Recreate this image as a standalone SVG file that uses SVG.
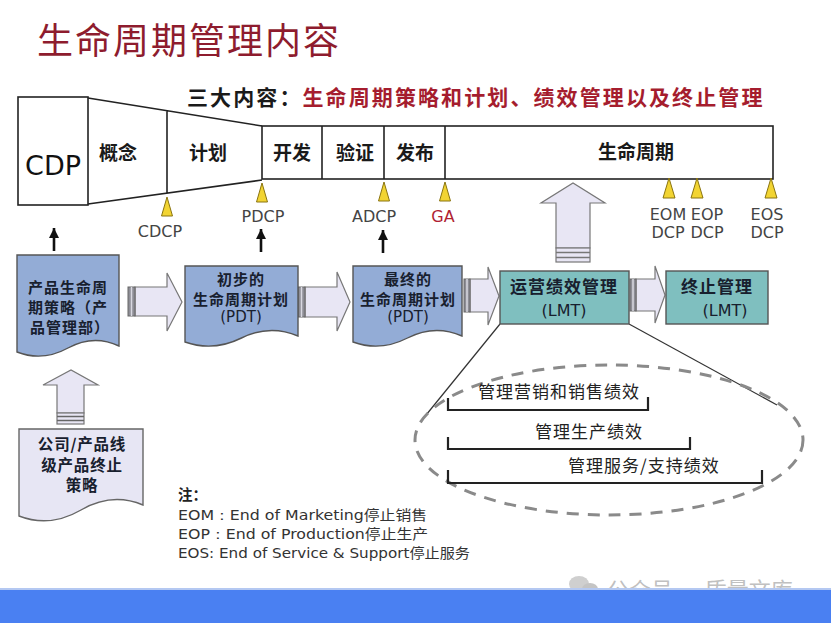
<svg xmlns="http://www.w3.org/2000/svg" width="831" height="623" viewBox="0 0 831 623">
<defs>
<style>
.cjk{font-family:"Noto Sans CJK SC","Noto Sans",sans-serif}
.lat{font-family:"DejaVu Sans","Liberation Sans",sans-serif}
.box{fill:#ffffff;stroke:#222;stroke-width:1.6}
.doc{fill:#93acd6;stroke:#555;stroke-width:1.4}
.doc2{fill:#e7e6f4;stroke:#666;stroke-width:1.4}
.teal{fill:#7fbfbf;stroke:#555;stroke-width:1.4}
.barrow{fill:#e8e6f4;stroke:#777;stroke-width:1.2}
.stripe{fill:#8e8e96;stroke:#666;stroke-width:1}
.tri{fill:#f2d432;stroke:#8a7410;stroke-width:1}
.lbl{font-size:16px;fill:#444;text-anchor:middle}
.ph{font-size:19px;font-weight:bold;fill:#1a1a1a;text-anchor:middle}
.dt{font-size:15px;font-weight:bold;fill:#18202e;text-anchor:middle;letter-spacing:1px}
.br{fill:none;stroke:#222;stroke-width:2.2}
.bt{font-size:17px;fill:#222;letter-spacing:1px}
.note{font-size:14px;fill:#333}
</style>
<marker id="ah" viewBox="0 0 10 10" refX="10" refY="5" markerWidth="4" markerHeight="4" orient="auto">
<path d="M0,0 L10,5 L0,10 z" fill="#111"/>
</marker>
</defs>
<rect width="831" height="623" fill="#ffffff"/>

<g id="title">
<text class="cjk" x="37" y="54" font-size="36" fill="#8e1c2e" letter-spacing="2">生命周期管理内容</text>
<text class="cjk" x="187" y="105" font-size="21" font-weight="bold" letter-spacing="2.1"><tspan fill="#1a1a1a">三大内容：</tspan><tspan fill="#a51d2e">生命周期策略和计划、绩效管理以及终止管理</tspan></text>
</g>

<g id="phase-bar">
<rect class="box" x="18" y="97" width="70" height="108"/>
<text class="lat" x="53" y="175" font-size="27" fill="#111" text-anchor="middle">CDP</text>
<path class="box" d="M88,98 L262,126 M88,204 L262,180 M167,110.7 L167,193.1"/>
<rect class="box" x="262" y="126" width="511" height="53"/>
<path class="box" d="M322,126 V179 M384,126 V179 M445,126 V179"/>
<text class="cjk ph" x="118" y="160">概念</text>
<text class="cjk ph" x="208" y="160">计划</text>
<text class="cjk ph" x="292" y="160">开发</text>
<text class="cjk ph" x="355" y="160">验证</text>
<text class="cjk ph" x="415" y="160">发布</text>
<text class="cjk ph" x="636" y="159">生命周期</text>
</g>

<g id="checkpoints">
<polygon class="tri" points="167,197 161.5,216 172.5,216"/>
<polygon class="tri" points="262,183 256.5,202 267.5,202"/>
<polygon class="tri" points="384,182 378.5,201 389.5,201"/>
<polygon class="tri" points="445,182 439.5,201 450.5,201"/>
<polygon class="tri" points="669,178 663,198 675,198"/>
<polygon class="tri" points="697,178 691,198 703,198"/>
<polygon class="tri" points="771,178 765,198 777,198"/>
<text class="lat lbl" x="160" y="237">CDCP</text>
<text class="lat lbl" x="263" y="222">PDCP</text>
<text class="lat lbl" x="374" y="222">ADCP</text>
<text class="lat lbl" x="443" y="222" style="fill:#b01f33">GA</text>
<text class="lat lbl" x="668" y="220">EOM</text>
<text class="lat lbl" x="668" y="238">DCP</text>
<text class="lat lbl" x="707" y="220">EOP</text>
<text class="lat lbl" x="707" y="238">DCP</text>
<text class="lat lbl" x="767" y="220">EOS</text>
<text class="lat lbl" x="767" y="238">DCP</text>
</g>

<g id="connectors">
<line x1="54" y1="251" x2="54" y2="228" stroke="#111" stroke-width="2.6" marker-end="url(#ah)"/>
<line x1="261" y1="252" x2="261" y2="229" stroke="#111" stroke-width="2.6" marker-end="url(#ah)"/>
<line x1="383" y1="253" x2="383" y2="230" stroke="#111" stroke-width="2.6" marker-end="url(#ah)"/>
<g id="arrow-1">
<polygon class="barrow" points="135,287 167,287 167,273 182,302 167,331 167,316 135,316"/>
<rect class="stripe" x="128" y="287" width="7" height="29"/><line x1="131.5" y1="287" x2="131.5" y2="316" stroke="#d8d8e0" stroke-width="1.5"/>
</g>
<g id="arrow-2">
<polygon class="barrow" points="305,287 337,287 337,272 350,302 337,331 337,317 305,317"/>
<rect class="stripe" x="298" y="287" width="7" height="30"/><line x1="301.5" y1="287" x2="301.5" y2="317" stroke="#d8d8e0" stroke-width="1.5"/>
</g>
<g id="arrow-3">
<polygon class="barrow" points="470,279 488,279 488,267 499,296 488,325 488,312 470,312"/>
<rect class="stripe" x="464" y="279" width="6" height="33"/><line x1="467" y1="279" x2="467" y2="312" stroke="#d8d8e0" stroke-width="1.5"/>
</g>
<g id="arrow-4">
<polygon class="barrow" points="636,279 655,279 655,266 665,295 655,323 655,311 636,311"/>
<rect class="stripe" x="630" y="279" width="6" height="32"/><line x1="633" y1="279" x2="633" y2="311" stroke="#d8d8e0" stroke-width="1.5"/>
</g>
<g id="arrow-up-big">
<polygon class="barrow" points="556,248 556,203 541,203 573,183 605,203 590,203 590,248"/>
<rect class="barrow" x="556" y="248" width="34" height="14"/>
<line x1="556" y1="252.5" x2="590" y2="252.5" stroke="#777" stroke-width="1.5"/>
<line x1="556" y1="257.5" x2="590" y2="257.5" stroke="#777" stroke-width="1.5"/>
</g>
<g id="arrow-up-small">
<polygon class="barrow" points="57,413 57,385 43,385 71,370 98,385 84,385 84,413"/>
<rect class="barrow" x="57" y="413" width="27" height="11"/>
<line x1="57" y1="416.5" x2="84" y2="416.5" stroke="#666" stroke-width="1.5"/>
<line x1="57" y1="420.5" x2="84" y2="420.5" stroke="#666" stroke-width="1.5"/>
</g>
<line x1="500" y1="324" x2="422" y2="420" stroke="#333" stroke-width="1.2"/>
<line x1="629" y1="324" x2="777" y2="405" stroke="#333" stroke-width="1.2"/>
</g>

<g id="node-strategy">
<path class="doc" d="M17,255 H119 V346 Q93.5,334 68,348 T17,352 Z"/>
<text class="cjk dt" x="68" y="293">产品生命周</text>
<text class="cjk dt" x="68" y="313">期策略（产</text>
<text class="cjk dt" x="70" y="333">品管理部）</text>
</g>

<g id="node-initial-plan">
<path class="doc" d="M185,266 H298 V336 Q269.75,324 241.5,338 T185,342 Z"/>
<text class="cjk dt" x="241" y="285">初步的</text>
<text class="cjk dt" x="241" y="305">生命周期计划</text>
<text class="lat" x="241" y="322" font-size="15" fill="#18202e" text-anchor="middle">(PDT)</text>
</g>

<g id="node-final-plan">
<path class="doc" d="M353,266 H462 V336 Q434.75,324 407.5,338 T353,342 Z"/>
<text class="cjk dt" x="408" y="285">最终的</text>
<text class="cjk dt" x="408" y="305">生命周期计划</text>
<text class="lat" x="408" y="322" font-size="15" fill="#18202e" text-anchor="middle">(PDT)</text>
</g>

<g id="node-operation">
<rect class="teal" x="500" y="271" width="129" height="53"/>
<text class="cjk" x="564" y="293" font-size="17" font-weight="bold" fill="#18202e" text-anchor="middle" letter-spacing="1">运营绩效管理</text>
<text class="lat" x="564" y="316" font-size="16" fill="#18202e" text-anchor="middle">(LMT)</text>
</g>

<g id="node-termination">
<rect class="teal" x="666" y="271" width="102" height="53"/>
<text class="cjk" x="717" y="293" font-size="17" font-weight="bold" fill="#18202e" text-anchor="middle" letter-spacing="1">终止管理</text>
<text class="lat" x="725" y="316" font-size="16" fill="#18202e" text-anchor="middle">(LMT)</text>
</g>

<g id="node-company">
<path class="doc2" d="M19,429 H143 V505 Q112,492 81,510 T19,516 Z"/>
<text class="cjk" x="82" y="450" font-size="15.5" font-weight="bold" fill="#18202e" text-anchor="middle" letter-spacing="0.8">公司/产品线</text>
<text class="cjk" x="82" y="470.5" font-size="15.5" font-weight="bold" fill="#18202e" text-anchor="middle" letter-spacing="0.8">级产品终止</text>
<text class="cjk" x="82" y="491" font-size="15.5" font-weight="bold" fill="#18202e" text-anchor="middle" letter-spacing="0.8">策略</text>
</g>

<g id="node-performance">
<ellipse cx="609" cy="440" rx="194" ry="75" fill="none" stroke="#8a8a8a" stroke-width="3" stroke-dasharray="12,9"/>
<text class="cjk bt" x="478" y="398">管理营销和销售绩效</text>
<path class="br" d="M448,398 V410 H648 V397"/>
<text class="cjk bt" x="535" y="438">管理生产绩效</text>
<path class="br" d="M448,437 V449 H690 V437"/>
<text class="cjk bt" x="568" y="472">管理服务/支持绩效</text>
<path class="br" d="M448,470 V483 H762 V470"/>
</g>

<g id="notes">
<text class="cjk" x="178" y="500" font-size="14.5" font-weight="bold" fill="#222">注：</text>
<text class="lat note" x="178" y="520" textLength="249" lengthAdjust="spacingAndGlyphs">EOM：End of Marketing<tspan class="cjk">停止销售</tspan></text>
<text class="lat note" x="178" y="538.5" textLength="250" lengthAdjust="spacingAndGlyphs">EOP：End of Production<tspan class="cjk">停止生产</tspan></text>
<text class="lat note" x="178" y="557.5" textLength="292" lengthAdjust="spacingAndGlyphs">EOS: End of Service &amp; Support<tspan class="cjk">停止服务</tspan></text>
</g>

<g id="footer">
<ellipse cx="579" cy="584" rx="10" ry="8" fill="#cfcfcf"/>
<ellipse cx="590" cy="589" rx="8" ry="6" fill="#c4c4c4"/>
<text class="cjk" x="607" y="598" font-size="22" fill="#c0c0c0">公众号 · 质量文库</text>
<rect x="0" y="588" width="831" height="2" fill="#b4c8f2"/>
<rect x="0" y="590" width="831" height="33" fill="#4a80f2"/>
</g>
</svg>
